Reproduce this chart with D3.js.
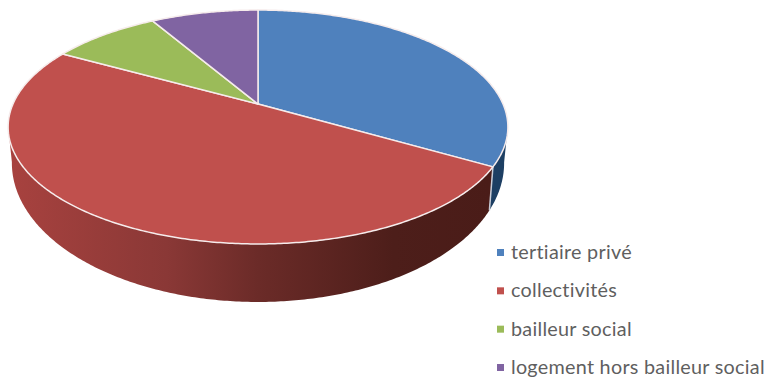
<!DOCTYPE html>
<html>
<head>
<meta charset="utf-8">
<script src="https://cdnjs.cloudflare.com/ajax/libs/d3/7.8.5/d3.min.js"></script>
<style>
html,body{margin:0;padding:0;background:#fff}
svg{display:block}
text{font-family:Lato,"Open Sans",sans-serif;fill:#5f5f5f;font-variant-ligatures:none;letter-spacing:0.27px}
</style>
</head>
<body>
<svg id="chart" width="769" height="378"></svg>
<script>
const categories = ["tertiaire privé", "collectivités", "bailleur social", "logement hors bailleur social"];
const shares = [33.4, 49.7, 8.5, 8.4];
const topColors = ["#4f81bd", "#c0504d", "#9bbb59", "#8064a2"];
const blueWall = "#1d3f63";
const redWallStops = [[0, "#a8423f"], [0.33, "#8a3836"], [0.52, "#6b2b28"], [0.8, "#4d1e1a"], [1, "#4a1c18"]];

const svg = d3.select("#chart");

// Tilted disc: a unit circle seen in perspective, nearer edge larger.
const cx = 258, apexY = 104, spanX = 245, spanY = 92, tilt = 0.1966;
function project(a) {
  const c = Math.cos(a), d = 1 + tilt * c;
  return [cx + spanX * Math.sin(a) / d, (apexY - spanY * c) / d];
}
// The lower rim of the disc: slightly narrower, and stretched downward.
const rimMidY = 127, floorMidY = 163, floorScaleX = 0.985, floorScaleY = 139 / 117;
function projectFloor(a) {
  const [x, y] = project(a);
  return [cx + (x - cx) * floorScaleX, floorMidY + (y - rimMidY) * floorScaleY];
}
function sample(fn, a0, a1) {
  const n = Math.max(2, Math.ceil(Math.abs(a1 - a0) / 0.01));
  return d3.range(n + 1).map(i => fn(a0 + (a1 - a0) * i / n));
}
const line = d3.line();
const arcs = d3.pie().sort(null).value(d => d)(shares);

const redGrad = svg.append("defs").append("linearGradient").attr("id", "wallRed")
  .attr("gradientUnits", "userSpaceOnUse")
  .attr("x1", 8).attr("x2", 490).attr("y1", 0).attr("y2", 0);
redWallStops.forEach(([o, c]) => redGrad.append("stop").attr("offset", o).attr("stop-color", c));

const g = svg.append("g");

// Outer walls, limited to the part of the rim facing the viewer.
function wall(a0, a1, fill) {
  const pts = sample(project, a0, a1).concat(sample(projectFloor, a1, a0));
  g.append("path").attr("d", line(pts) + "Z").attr("fill", fill);
}
const seam = arcs[0].endAngle;
const silhouette = 101 * Math.PI / 180;
wall(silhouette, seam, blueWall);
wall(seam, 2 * Math.PI - silhouette, "url(#wallRed)");

// Pale edge where the blue and red walls meet.
g.append("path")
  .attr("d", line([project(seam), projectFloor(seam)]))
  .attr("stroke", "#c9ccd6").attr("stroke-width", 1.5).attr("fill", "none");

// Top face slices.
arcs.forEach((d, i) => {
  const pts = [[cx, apexY]].concat(sample(project, d.startAngle, d.endAngle));
  g.append("path")
    .attr("d", line(pts) + "Z")
    .attr("fill", topColors[i])
    .attr("stroke", "#f6ecec").attr("stroke-width", 1.5).attr("stroke-linejoin", "round");
});

// Legend.
const y = d3.scalePoint().domain(categories).range([252, 367]);
const legend = svg.append("g");
categories.forEach((c, i) => {
  legend.append("rect").attr("x", 497).attr("y", y(c) - 3).attr("width", 7).attr("height", 7).attr("fill", topColors[i]);
  legend.append("text").attr("x", 511).attr("y", y(c)).attr("dy", "0.35em").attr("font-size", 19.8).text(c);
});
</script>
</body>
</html>
